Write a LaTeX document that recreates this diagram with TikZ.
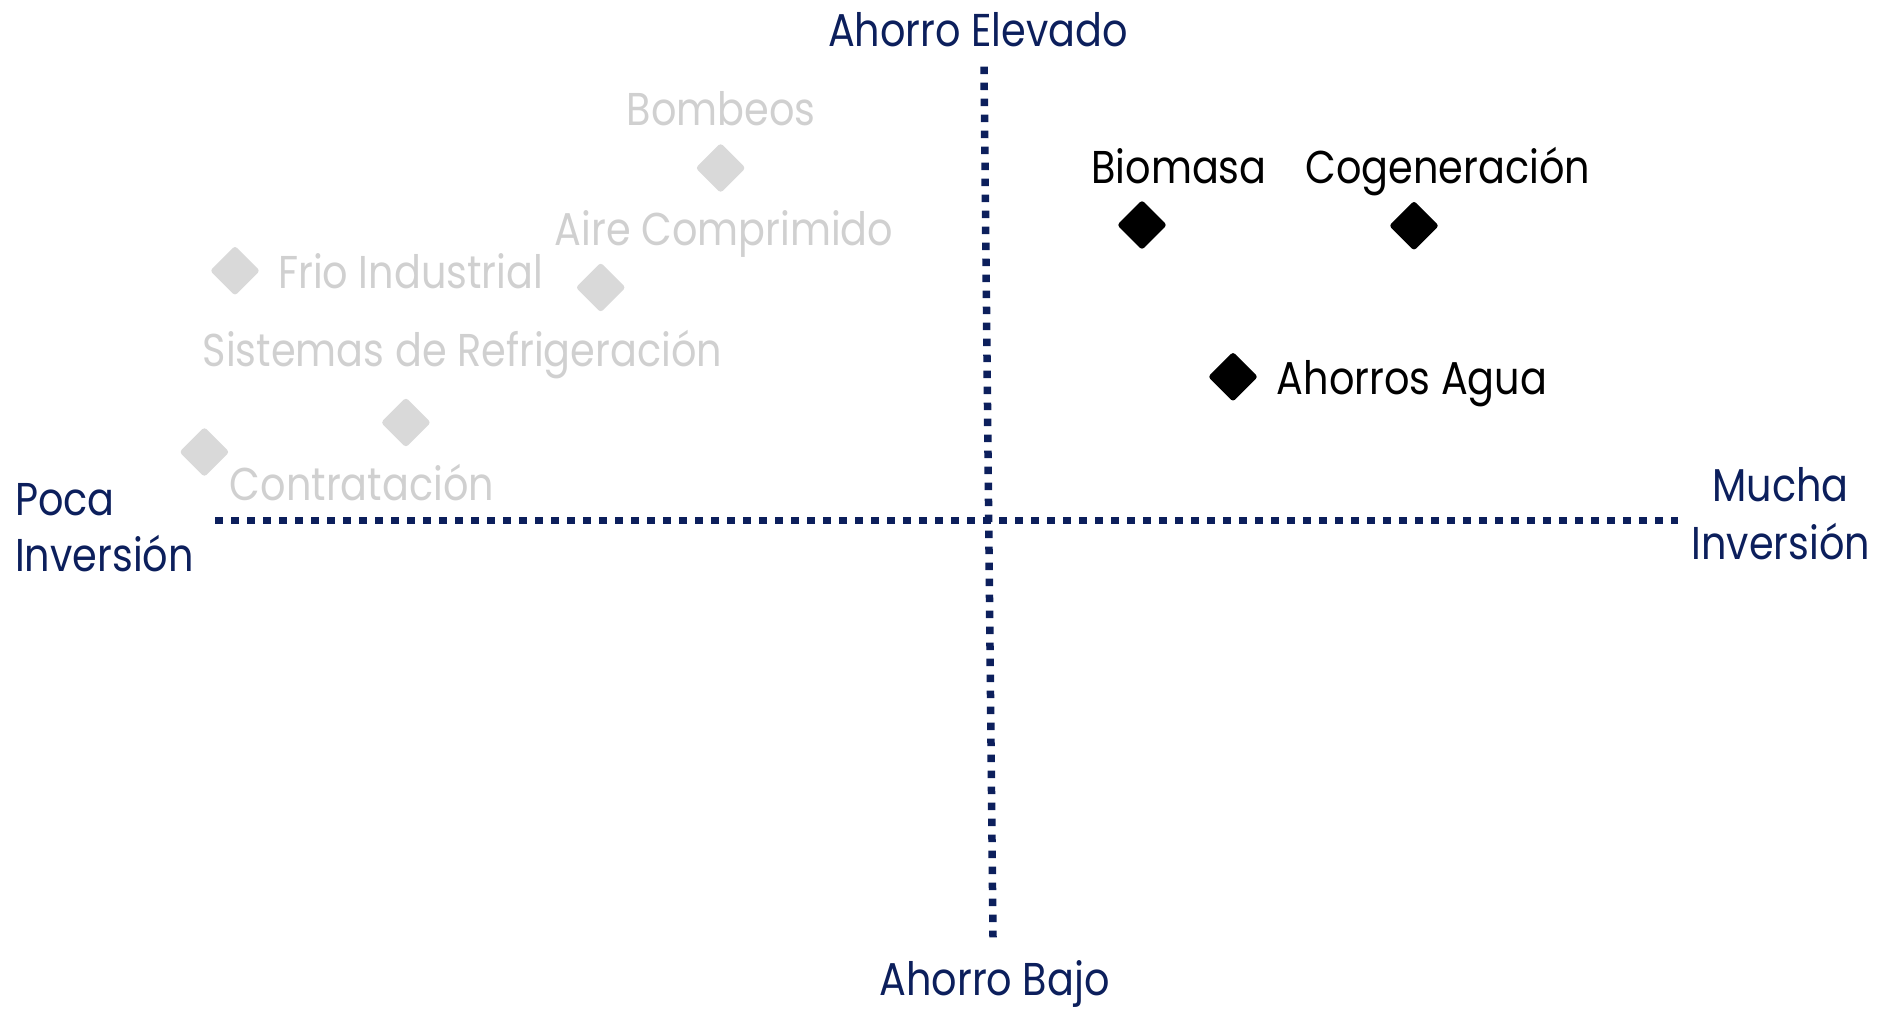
\documentclass[tikz,border=0pt]{standalone}
\usepackage{fontspec}
\setmainfont{Poppins}[FakeStretch=0.865]
\usetikzlibrary{shapes.geometric}
\definecolor{navy}{HTML}{0C1F5C}
\definecolor{lightgr}{HTML}{D9D9D9}
\definecolor{lighttxt}{HTML}{D0D0D0}
\begin{document}
\begin{tikzpicture}[x=1pt,y=-1pt,
  lbl/.style={font=\fontsize{46}{50}\selectfont, inner sep=0pt, anchor=base},
  axislbl/.style={lbl, text=navy},
  greylbl/.style={lbl, text=lighttxt},
  blacklbl/.style={lbl, text=black},
  gem/.style={diamond, aspect=1, minimum width=50pt, minimum height=50pt, inner sep=0pt, rounded corners=3pt},
  greygem/.style={gem, fill=lightgr},
  blackgem/.style={gem, fill=black},
  axisline/.style={draw=navy, line width=7.5pt, dash pattern=on 7.5pt off 8.5pt, line cap=butt}]
\useasboundingbox (0,0) rectangle (1877,1010);
% axes
\coordinate (hl) at (215,520.3);
\coordinate (hr) at (1678,520.3);
\coordinate (vt) at (984,66.7);
\coordinate (vb) at (993,937.3);
\draw[axisline] (hl) -- (hr);
\draw[axisline] (vt) -- (vb);
% axis labels
\node[axislbl] (top) at (978,46.7) {Ahorro Elevado};
\node[axislbl] (bottom) at (994.5,995) {Ahorro Bajo};
\node[axislbl, anchor=base west] (poca) at (15,515.7) {Poca};
\node[axislbl, anchor=base west] (inv1) at (15,571.7) {Inversión};
\node[axislbl] (mucha) at (1780.5,501.7) {Mucha};
\node[axislbl] (inv2) at (1781,559) {Inversión};
% grey items
\node[greygem] (d1) at (720.6,168) {};
\node[greygem] (d2) at (600.7,287.5) {};
\node[greygem] (d3) at (235,270.7) {};
\node[greygem] (d4) at (405.9,422.5) {};
\node[greygem] (d5) at (204.4,452) {};
\node[greylbl] (t1) at (721,125.7) {Bombeos};
\node[greylbl] (t2) at (724,245.7) {Aire Comprimido};
\node[greylbl] (t3) at (410.7,288.6) {Frio Industrial};
\node[greylbl] (t4) at (462.5,366) {Sistemas de Refrigeración};
\node[greylbl] (t5) at (362,500.7) {Contratación};
% black items
\node[blackgem] (d6) at (1142,225) {};
\node[blackgem] (d7) at (1414,225.7) {};
\node[blackgem] (d8) at (1233,376.8) {};
\node[blacklbl] (t6) at (1179,183) {Biomasa};
\node[blacklbl] (t7) at (1448,183) {Cogeneración};
\node[blacklbl] (t8) at (1412,394.6) {Ahorros Agua};
\end{tikzpicture}
\end{document}
